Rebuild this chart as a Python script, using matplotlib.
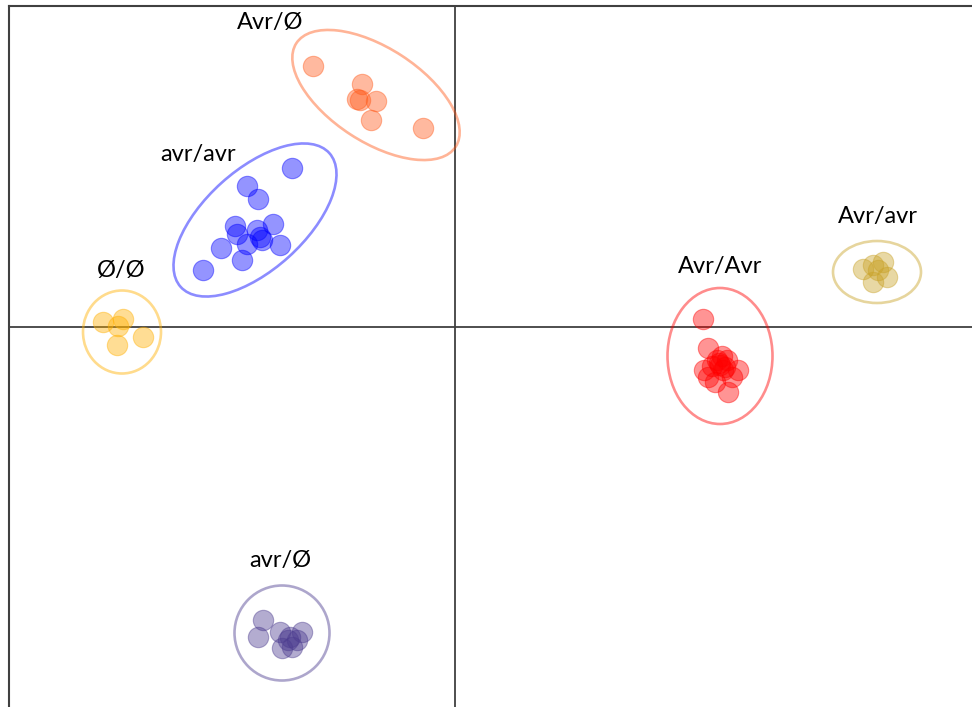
import matplotlib.pyplot as plt
from matplotlib.patches import Ellipse

# factor scores per genotype group (axis 1, axis 2)
blue_x = [-1.63, -2.08, -1.97, -2.20, -1.82, -2.18, -1.98, -1.95, -2.08, -1.75, -2.34, -2.13, -2.52, -1.93]
blue_y = [1.59, 1.41, 1.28, 1.01, 1.03, 0.93, 0.97, 0.90, 0.83, 0.82, 0.79, 0.67, 0.57, 0.87]

orange_x = [-1.42, -0.93, -0.98, -0.95, -0.79, -0.84, -0.32]
orange_y = [2.61, 2.43, 2.28, 2.27, 2.26, 2.07, 1.99]

yellow_x = [-3.52, -3.32, -3.37, -3.38, -3.12]
yellow_y = [0.05, 0.08, 0.01, -0.18, -0.10]

red_x = [2.48, 2.53, 2.65, 2.83, 2.53, 2.60, 2.73, 2.72, 2.62, 2.68, 2.49, 2.77, 2.67, 2.57, 2.64, 2.70]
red_y = [0.08, -0.21, -0.38, -0.43, -0.50, -0.55, -0.65, -0.33, -0.33, -0.43, -0.43, -0.50, -0.29, -0.39, -0.36, -0.40]

olive_x = [4.08, 4.18, 4.28, 4.32, 4.18, 4.23]
olive_y = [0.58, 0.62, 0.65, 0.50, 0.45, 0.57]

purple_x = [-1.92, -1.97, -1.75, -1.67, -1.53, -1.58, -1.73, -1.63, -1.65]
purple_y = [-2.93, -3.10, -3.05, -3.13, -3.05, -3.13, -3.21, -3.20, -3.10]

groups = [
    # label, xs, ys, colour, ellipse (cx, cy, w, h, angle), label position
    ("avr/avr", blue_x, blue_y, "#0000ff", (-2.00, 1.07, 2.00, 1.00, 42), (-2.57, 1.73)),
    ("Avr/Ø", orange_x, orange_y, "#ff5a1a", (-0.79, 2.32, 1.90, 0.94, -33), (-1.85, 3.05)),
    ("Ø/Ø", yellow_x, yellow_y, "#ffb000", (-3.33, -0.05, 0.78, 0.83, 0), (-3.34, 0.57)),
    ("Avr/Avr", red_x, red_y, "#ff0000", (2.65, -0.29, 1.05, 1.36, 0), (2.65, 0.61)),
    ("Avr/avr", olive_x, olive_y, "#c9a227", (4.22, 0.55, 0.88, 0.62, 0), (4.23, 1.10)),
    ("avr/Ø", purple_x, purple_y, "#4b3b8f", (-1.73, -3.06, 0.95, 0.95, 0), (-1.75, -2.34)),
]

fig = plt.figure(figsize=(9.72, 7.07), dpi=100)
ax = fig.add_axes([9 / 972, 0, 1 - 9 / 972, 1 - 6 / 707])
ax.set_xlim(-4.46, 5.17)
ax.set_ylim(-3.80, 3.21)

ax.axhline(0, color="#404040", lw=1.3, zorder=1)
ax.axvline(0, color="#404040", lw=1.3, zorder=1)

for label, xs, ys, col, ell, pos in groups:
    ax.scatter(xs, ys, s=215, color=col, alpha=0.42, edgecolors=col, linewidths=0.8, zorder=3)
    cx, cy, w, h, ang = ell
    ax.add_patch(Ellipse((cx, cy), w, h, angle=ang, fill=False, edgecolor=col,
                         alpha=0.45, lw=1.9, zorder=2))
    ax.text(pos[0], pos[1], label, ha="center", va="center", fontsize=17,
            family=["Lato", "DejaVu Sans"], color="black")

for side in ["right", "bottom"]:
    ax.spines[side].set_visible(False)
for side in ["left", "top"]:
    ax.spines[side].set_color("#404040")
    ax.spines[side].set_linewidth(1.5)
ax.set_xticks([])
ax.set_yticks([])

fig.savefig("out.png", dpi=100)
